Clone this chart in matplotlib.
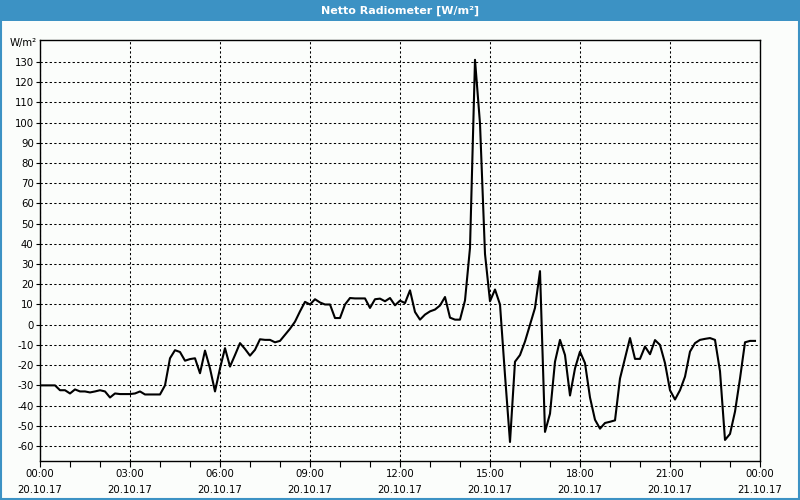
import matplotlib
matplotlib.use("Agg")
import matplotlib.pyplot as plt
from matplotlib.patches import Rectangle
import numpy as np

# minutes since 20.10.17 00:00 and net radiation in W/m²
minutes = [0, 30, 40, 50, 60, 70, 80, 90, 100, 110, 120, 130, 140, 150, 160,
           170, 180, 190, 200, 210, 220, 230, 240, 250, 260, 270, 280, 290,
           300, 310, 320, 330, 340, 350, 360, 370, 380, 390, 400, 410, 420,
           430, 440, 450, 460, 470, 480, 490, 500, 510, 520, 530, 540, 550,
           560, 570, 580, 590, 600, 610, 620, 630, 640, 650, 660, 670, 680,
           690, 700, 710, 720, 730, 740, 750, 760, 770, 780, 790, 800, 810,
           820, 830, 840, 850, 860, 870, 880, 890, 900, 910, 920, 930, 940,
           950, 960, 970, 980, 990, 1000, 1010, 1020, 1030, 1040, 1050, 1060,
           1070, 1080, 1090, 1100, 1110, 1120, 1130, 1140, 1150, 1160, 1170,
           1180, 1190, 1200, 1210, 1220, 1230, 1240, 1250, 1260, 1270, 1280,
           1290, 1300, 1310, 1320, 1330, 1340, 1350, 1360, 1370, 1380, 1390,
           1400, 1410, 1420, 1430]
werte = [-30, -30, -32.4, -32.4, -34, -32, -33, -33, -33.5, -33, -32.4, -33,
         -36, -34, -34.3, -34.3, -34.3, -34, -33, -34.5, -34.5, -34.5, -34.5,
         -30, -16.6, -12.6, -13.5, -17.8, -17, -16.6, -24, -12.8, -21.6, -33,
         -21.6, -11.6, -20.7, -15, -9.1, -12, -15.3, -12.4, -7.2, -7.5, -7.5,
         -8.7, -8, -5, -2, 1.5, 6.6, 11.3, 10, 12.6, 11, 10, 10, 3.3, 3.3, 10,
         13.2, 13, 13, 13, 8.3, 12.6, 12.9, 11.6, 13.2, 9.6, 11.9, 10.7, 17,
         6.3, 2.5, 5, 6.6, 7.5, 9.5, 13.7, 3.5, 2.5, 2.5, 12, 38, 131, 99.5,
         35, 11.6, 17.4, 10, -25, -58, -18.3, -15, -8.3, 0, 8.3, 26.5, -53,
         -44, -18.3, -7.5, -15, -35, -21.6, -13.3, -19, -36, -47, -51.4,
         -48.6, -48, -47.3, -26.6, -16.6, -6.6, -16.9, -16.9, -10.8, -14.6,
         -7.6, -10, -19, -32.4, -37, -32.4, -25.7, -13.3, -9.1, -7.5, -7,
         -6.6, -7.5, -23, -57, -54, -43, -26.6, -8.7, -8, -8]

x_ticks = [0, 3, 6, 9, 12, 15, 18, 21, 24]
x_labels = ["00:00\n20.10.17", "03:00\n20.10.17", "06:00\n20.10.17",
            "09:00\n20.10.17", "12:00\n20.10.17", "15:00\n20.10.17",
            "18:00\n20.10.17", "21:00\n20.10.17", "00:00\n21.10.17"]
y_ticks = list(range(-60, 140, 10))

blau = "#3c92c4"
hinterg = "#fbfdfb"

plt.rcParams['font.family'] = ['DejaVu Sans']
fig = plt.figure(figsize=(8, 5), dpi=100, facecolor=hinterg)
ax = fig.add_axes([0.05, 0.078, 0.90, 0.842])
ax.set_facecolor(hinterg)

stunden = np.array(minutes) / 60.0
ax.plot(stunden, werte, color="black", linewidth=1.5)

ax.set_xlim(0, 24)
ax.set_ylim(-67.4, 140.8)
ax.set_xticks(x_ticks)
ax.set_xticklabels(x_labels, fontsize=7.3, linespacing=1.75)
ax.set_xticks(range(0, 25), minor=True)
ax.set_yticks(y_ticks)
ax.set_yticklabels([str(v) for v in y_ticks], fontsize=7.3)
ax.tick_params(axis="x", which="both", direction="out", length=4, width=0.8, pad=2)
ax.tick_params(axis="y", direction="out", length=3, width=0.8, pad=1.5)

ax.grid(True, which="major", color="black", linestyle=(0, (2.2, 2.2)), linewidth=0.75)
for s in ax.spines.values():
    s.set_linewidth(1.0)
    s.set_color("black")

ax.text(-0.005, 1.005, "W/m²", transform=ax.transAxes, ha="right", va="top", fontsize=7.3)

# Fensterrahmen und Titelleiste
fig.patches.append(Rectangle((0, 0.958), 1, 0.042, transform=fig.transFigure,
                             facecolor=blau, edgecolor="none", zorder=0))
fig.patches.append(Rectangle((0.001, 0.002), 0.998, 0.996, transform=fig.transFigure,
                             facecolor="none", edgecolor=blau, linewidth=1.5, zorder=5))
fig.text(0.5, 0.979, "Netto Radiometer [W/m²]", color="white", fontsize=8,
         fontweight="bold", ha="center", va="center")

fig.savefig("out.png", dpi=100, facecolor=hinterg)
